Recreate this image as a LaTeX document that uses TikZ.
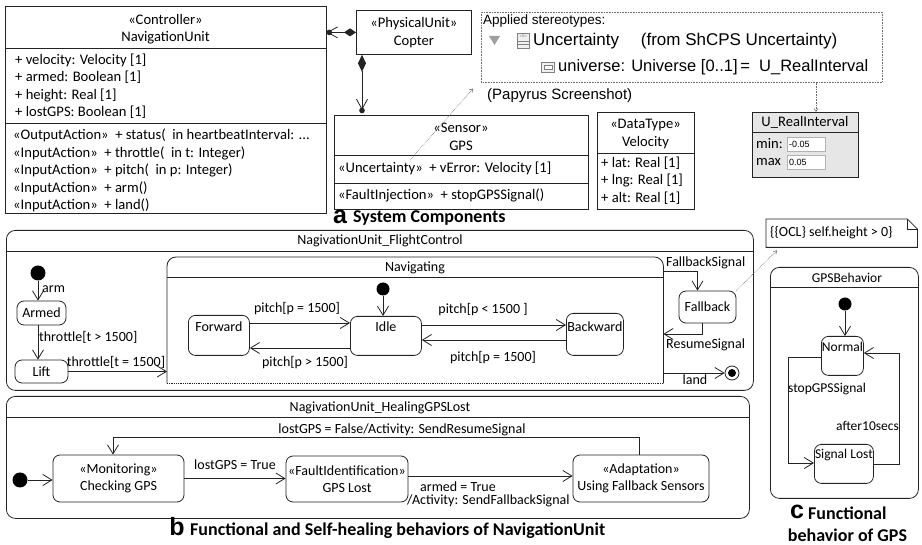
\documentclass[tikz,border=0pt]{standalone}
\usepackage{fontspec}
\setmainfont{Carlito}
\newfontfamily\macfont{Liberation Sans}
\usepackage{tikz}
\usetikzlibrary{arrows.meta,positioning,calc}
\definecolor{lineclr}{RGB}{35,35,35}
\definecolor{traceclr}{RGB}{110,110,110}
\definecolor{boxgray}{RGB}{230,230,230}
\newcommand{\umltxt}{\fontsize{14}{17.5}\selectfont}
\newcommand{\classtxt}{\fontsize{14.6}{17.5}\selectfont}
\newcommand{\gpstxt}{\fontsize{13.5}{17}\selectfont}
\newcommand{\captxt}{\bfseries\fontsize{18}{21}\selectfont}
\newcommand{\capletter}{\macfont\bfseries\fontsize{25}{25}\selectfont}

\begin{document}
\begin{tikzpicture}[x=1pt, y=-1pt,
        every node/.style={font=\umltxt, inner sep=0pt},
        classbox/.style={draw=lineclr, line width=0.8pt, anchor=north west},
        classtext/.style={font=\classtxt},
        statebox/.style={draw=lineclr, line width=0.8pt, rounded corners=7pt, align=center},
        topstate/.style={statebox, anchor=north west, text depth=24pt},
        region/.style={draw=lineclr, line width=0.8pt, rounded corners=9pt, anchor=north west},
        initdot/.style={circle, fill=black, minimum size=15pt},
        trans/.style={-{Straight Barb[length=9pt,width=11pt]}, line width=0.8pt, lineclr},
        trace/.style={-{Straight Barb[length=3pt,width=4pt]}, densely dotted, traceclr, line width=0.6pt},
        sep/.style={draw=lineclr, line width=0.8pt},
        valbox/.style={draw=black!30, fill=white, anchor=north west, minimum width=38pt, minimum height=14pt, text width=34pt, align=left, font=\macfont\fontsize{9}{10}\selectfont}
    ]
    \useasboundingbox (0,0) rectangle (922,545);

    % system components
    \node[classbox, minimum width=321pt, minimum height=207pt] (nav) at (5,6) {};
    \draw[sep] (nav.west |- 0,48) -- (nav.east |- 0,48);
    \draw[sep] (nav.west |- 0,123) -- (nav.east |- 0,123);
    \node[classtext, align=center] (navhead) at (165.5,29) {«Controller»\\NavigationUnit};
    \node[classtext, anchor=west, align=left] (navattr) at (15,86) {+ velocity: Velocity [1]\\+ armed: Boolean [1]\\+ height: Real [1]\\+ lostGPS: Boolean [1]};
    \node[classtext, anchor=west, align=left] (navops) at (13,170.5) {«OutputAction»~~+ status(~~in heartbeatInterval: ...\\«InputAction»~~+ throttle(~~in t: Integer)\\«InputAction»~~+ pitch(~~in p: Integer)\\«InputAction»~~+ arm()\\«InputAction»~~+ land()};

    \node[classbox, minimum width=115pt, minimum height=44pt] (copter) at (356,10) {};
    \node[classtext, align=center] (copterhead) at (copter.center) {«PhysicalUnit»\\Copter};
    \draw[line width=0.8pt, lineclr, {Diamond[length=12pt,width=8pt]}-{Straight Barb[length=10pt,width=11pt]}] (copter.west) -- (nav.east |- copter.west);
    \fill[lineclr] ($(nav.east |- copter.west)+(2.5,0)$) circle[radius=2.8pt];

    \node[classbox, minimum width=254pt, minimum height=94pt] (gps) at (334,115) {};
    \draw[sep] (gps.west |- 0,155) -- (gps.east |- 0,155);
    \draw[sep] (gps.west |- 0,183) -- (gps.east |- 0,183);
    \node[classtext, align=center] (gpshead) at (461,137) {«Sensor»\\GPS};
    \node[classtext, anchor=west] (gpsattr) at (338,168) {«Uncertainty»~~+ vError: Velocity [1]};
    \node[classtext, anchor=west] (gpsops) at (338,195.5) {«FaultInjection»~~+ stopGPSSignal()};
    \draw[line width=0.8pt, lineclr, {Diamond[length=17pt,width=8pt]}-{Straight Barb[length=10pt,width=11pt]}] ($(copter.south west)+(6,0)$) -- ($(gps.north west)+(28,-5)$);
    \fill[lineclr] ($(gps.north west)+(28,-4.5)$) circle[radius=2.8pt];

    \node[classbox, minimum width=97pt, minimum height=97pt] (velo) at (597,112) {};
    \draw[sep] (velo.west |- 0,153) -- (velo.east |- 0,153);
    \node[classtext, align=center] (velohead) at (645.5,134) {«DataType»\\Velocity};
    \node[classtext, anchor=west, align=left] (veloattr) at (601,180.5) {+ lat: Real [1]\\+ lng: Real [1]\\+ alt: Real [1]};

    % papyrus screenshot
    \node[draw=traceclr, densely dotted, line width=0.6pt, anchor=north west, minimum width=401pt, minimum height=70pt] (papyrus) at (481,12) {};
    \node[anchor=west, font=\macfont\fontsize{13.5}{16}\selectfont] (applied) at (483,21) {Applied stereotypes:};
    \fill[gray!75] (489,36) -- (500,36) -- (494.5,45) -- cycle;
    \node[draw=gray, fill=gray!12, anchor=north west, minimum width=12pt, minimum height=15pt] (sicon) at (517,33) {};
    \node[font=\macfont\fontsize{4}{4}\selectfont, text=gray] (siconS) at ($(sicon.north)+(0,3)$) {«S»};
    \draw[gray] ($(sicon.west)+(0,1)$) -- ($(sicon.east)+(0,1)$) ($(sicon.west)+(0,4)$) -- ($(sicon.east)+(0,4)$);
    \node[anchor=west, font=\macfont\fontsize{17}{19}\selectfont] (uncname) at (533,41) {Uncertainty\quad\ (from ShCPS Uncertainty)};
    \node[draw=gray, fill=gray!12, anchor=north west, minimum width=13pt, minimum height=10pt] (uicon) at (541,62) {};
    \node[draw=gray, fill=white, minimum width=8pt, minimum height=4pt] (uiconin) at (uicon.center) {};
    \node[anchor=west, font=\macfont\fontsize{16.5}{19}\selectfont] (univ) at (558,67.5) {universe: Universe [0..1]\,=~~U\_RealInterval};
    \node[anchor=west, font=\macfont\fontsize{15}{18}\selectfont] (papcap) at (487,96) {(Papyrus Screenshot)};
    \coordinate (uncert) at (410,160);
    \draw[trace] (uncert) -- ($(papyrus.south west)+(-8,6)$);

    \node[classbox, fill=boxgray, minimum width=106pt, minimum height=65pt] (realint) at (752,112) {};
    \draw[sep] (realint.west |- 0,132) -- (realint.east |- 0,132);
    \node[classtext] (realhead) at (805,122.5) {U\_RealInterval};
    \node[classtext, anchor=west] (minlbl) at (756,143.5) {min:};
    \node[classtext, anchor=west] (maxlbl) at (756,162) {max};
    \node[valbox] (minval) at (787,137) {-0.05};
    \node[valbox] (maxval) at (787,155.5) {0.05};
    \draw[trace] (papyrus.south -| 816,0) -- (realint.north -| 816,0);

    \node[font=\capletter] (capa) at (340,217) {a};
    \node[anchor=west, font=\captxt] (capatxt) at (353,218) {System Components};

    % flight control
    \node[region, minimum width=747pt, minimum height=160pt] (flight) at (6,230) {};
    \draw[sep] (flight.west |- 0,251) -- (flight.east |- 0,251);
    \node (flighttitle) at (380,241) {NagivationUnit\_FlightControl};

    \node[initdot] (init1) at (38,273) {};
    \node[statebox, minimum width=49pt, minimum height=24pt] (armed) at (41.5,313) {Armed};
    \node[statebox, minimum width=53pt, minimum height=23pt] (lift) at (41.5,371.5) {Lift};
    \draw[trans] (init1) -- (init1 |- armed.north);
    \node[anchor=west] (lblarm) at (42,289) {arm};
    \draw[trans] (armed.south -| init1) -- (lift.north -| init1);
    \node[anchor=west] (lblthrup) at (39,337) {throttle[t > 1500]};

    \node[anchor=north west, minimum width=496pt, minimum height=126pt] (navg) at (167,257) {};
    \draw[line width=0.8pt, lineclr, rounded corners=9pt] (navg.south west) |- (navg.north east) -- (navg.south east);
    \draw[line width=0.8pt, lineclr, densely dotted] (navg.south west) -- (navg.south east);
    \draw[sep] (navg.west |- 0,277) -- (navg.east |- 0,277);
    \node (navgtitle) at (415,268) {Navigating};
    \draw[trans] (lift.east) -- (lift.east -| navg.west);
    \node (lblthr) at (116,362) {throttle[t = 1500]};

    \node[initdot, minimum size=13pt] (init2) at (383,289) {};
    \node[topstate, minimum width=71pt, text height=15pt] (idle) at (350,316) {Idle};
    \node[topstate, minimum width=61pt, text height=16pt] (forward) at (188,315) {Forward};
    \node[topstate, minimum width=57pt, text height=18pt] (backward) at (566,313) {Backward};
    \draw[trans] (init2) -- (init2 |- idle.north);
    \draw[trans] (forward.east |- 0,323) -- (idle.west |- 0,323);
    \node (lblp1) at (297,309) {pitch[p = 1500]};
    \draw[trans] (idle.west |- 0,348) -- (forward.east |- 0,348);
    \node (lblp2) at (305,363) {pitch[p > 1500]};
    \draw[trans] (idle.east |- 0,325) -- (backward.west |- 0,325);
    \node (lblp3) at (483,310) {pitch[p < 1500 ]};
    \draw[trans] (backward.west |- 0,340) -- (idle.east |- 0,340);
    \node (lblp4) at (493,358) {pitch[p = 1500]};

    \node[statebox, minimum width=57pt, minimum height=32pt] (fallback) at (707.5,307) {Fallback};
    \draw[trans] (navg.east |- 0,271) -| ($(fallback.north)+(-10,0)$);
    \node[anchor=west] (lblfbs) at (666,263) {FallbackSignal};
    \draw[trans] ($(fallback.south)+(-5,0)$) |- (navg.east |- 0,334);
    \node[anchor=west] (lblres) at (666,345) {ResumeSignal};
    \node[circle, draw=lineclr, line width=0.8pt, minimum size=14pt] (final) at (732,373) {};
    \fill[black] (final) circle[radius=4pt];
    \draw[trans] (navg.east |- final) -- (final);
    \node (lblland) at (695,380) {land};

    \node[anchor=north west, minimum width=151pt, minimum height=28pt] (oclnote) at (766,219) {};
    \draw[line width=0.8pt, lineclr] (oclnote.north west) -- ($(oclnote.north east)+(-10,0)$) -- ($(oclnote.north east)+(0,10)$) -- (oclnote.south east) -- (oclnote.south west) -- cycle;
    \draw[line width=0.8pt, lineclr] ($(oclnote.north east)+(-10,0)$) |- ($(oclnote.north east)+(0,10)$);
    \node[anchor=west] (ocltext) at (770,233) {\{\{OCL\} self.height > 0\}};
    \draw[trace] (fallback.north east) -- ($(oclnote.south west)+(11,3)$);

    % gps behavior
    \node[region, minimum width=148pt, minimum height=231pt] (gpsbeh) at (770,267) {};
    \draw[sep] (gpsbeh.west |- 0,287) -- (gpsbeh.east |- 0,287);
    \node[font=\gpstxt] (gpsbehtitle) at (847,278) {GPSBehavior};
    \node[initdot, minimum size=13pt] (init3) at (845,304) {};
    \node[topstate, font=\gpstxt, minimum width=42pt, text height=15pt] (normal) at (821,336) {Normal};
    \node[topstate, font=\gpstxt, minimum width=59pt, text height=14pt, text depth=25pt] (siglost) at (814,444) {Signal Lost};
    \draw[trans] (init3) -- (init3 |- normal.north);
    \draw[trans] (normal.west |- 0,357) -- ++(-33,0) |- (siglost.west |- 0,463);
    \node[anchor=west, font=\gpstxt] (lblstop) at (788,389) {stopGPSSignal};
    \draw[trans] (siglost.east |- 0,464) -- ++(26,0) |- (normal.east |- 0,353);
    \node[anchor=east, font=\gpstxt] (lblafter) at (899,426) {after10secs};

    \node[font=\capletter] (capc) at (797,512) {c};
    \node[anchor=west, font=\captxt] (capctxt) at (808,513.5) {Functional};
    \node[font=\captxt] (capctxt2) at (847.5,535) {behavior of GPS};

    % healing
    \node[region, minimum width=743pt, minimum height=122pt] (heal) at (6,396) {};
    \draw[sep] (heal.west |- 0,417) -- (heal.east |- 0,417);
    \node (healtitle) at (380,408) {NagivationUnit\_HealingGPSLost};
    \node[initdot] (init4) at (20,480) {};
    \node[statebox, minimum width=131pt, minimum height=47pt] (check) at (118.5,478.5) {«Monitoring»\\Checking GPS};
    \node[statebox, minimum width=122pt, minimum height=46pt] (lost) at (347,479) {«FaultIdentification»\\GPS Lost};
    \node[statebox, minimum width=136pt, minimum height=47pt] (fallbk) at (641,478.5) {«Adaptation»\\Using Fallback Sensors};
    \draw[trans] (init4) -- (check.west |- init4);
    \draw[trans] (check.east) -- (lost.west |- check.east);
    \node (lblgpstrue) at (235,465) {lostGPS = True};
    \draw[trans] (lost.east |- 0,476) -- (fallbk.west |- 0,476);
    \node[anchor=west, align=left] (lblarmed) at (407,494.5) {\hspace{13pt}armed = True\\[-4.5pt]/Activity: SendFallbackSignal};
    \draw[trans] ($(fallbk.north)+(-2,0)$) -- ++(0,-17) -| ($(check.north)+(-5.5,0)$);
    \node (lblresume) at (402,430) {lostGPS = False/Activity: SendResumeSignal};

    \node[font=\capletter] (capb) at (177,527) {b};
    \node[anchor=west, font=\captxt] (capbtxt) at (190,531) {Functional and Self-healing behaviors of NavigationUnit};
\end{tikzpicture}
\end{document}
